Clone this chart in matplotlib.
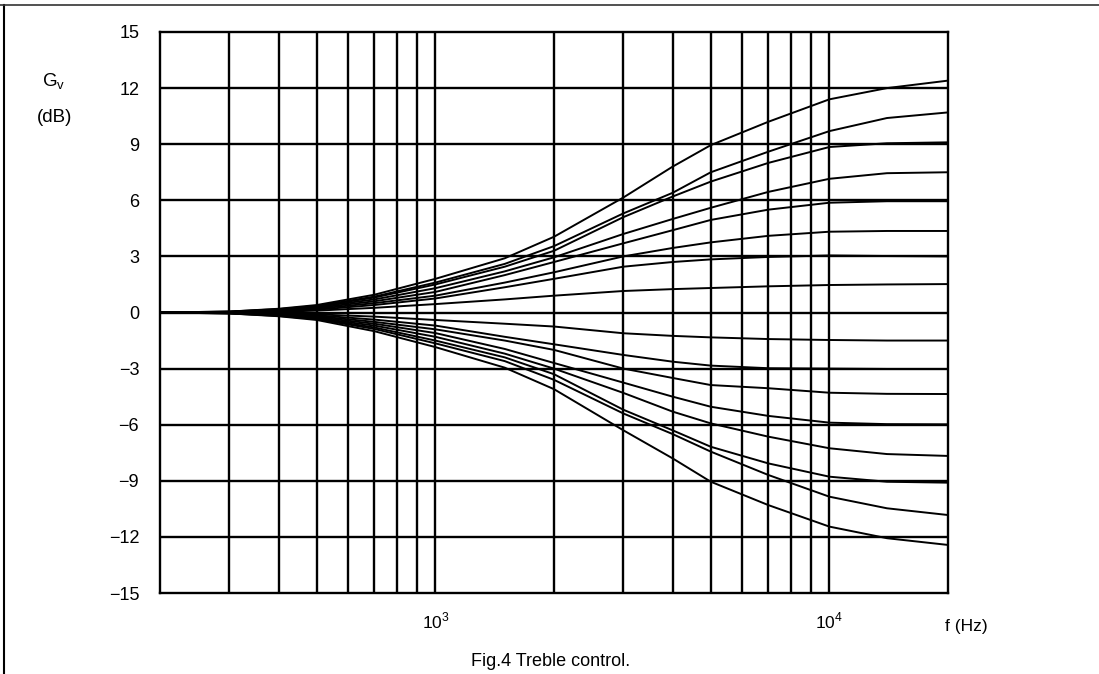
import matplotlib
matplotlib.use("Agg")
import matplotlib.pyplot as plt
from matplotlib.lines import Line2D

plt.rcParams['font.family'] = ['Liberation Sans', 'DejaVu Sans']
plt.rcParams['mathtext.fontset'] = 'custom'
plt.rcParams['mathtext.rm'] = 'Liberation Sans'

# frequencies (Hz) at which the curves were read
freqs = [200, 300, 400, 500, 700, 1000, 1500, 2000, 3000, 4000, 5000, 7000, 10000, 14000, 20000]

# boost settings (dB)
boost_12 = [0, 0.05, 0.2, 0.4, 0.95, 1.8, 2.9, 4.05, 6.15, 7.8, 8.95, 10.2, 11.4, 12.0, 12.4]
boost_10 = [0, 0.05, 0.18, 0.35, 0.85, 1.6, 2.6, 3.55, 5.3, 6.4, 7.5, 8.6, 9.7, 10.4, 10.7]
boost_9 = [0, 0.04, 0.15, 0.33, 0.8, 1.5, 2.45, 3.3, 5.1, 6.2, 7.0, 8.0, 8.85, 9.05, 9.1]
boost_7 = [0, 0.03, 0.13, 0.3, 0.7, 1.3, 2.2, 2.95, 4.2, 5.0, 5.6, 6.45, 7.15, 7.45, 7.5]
boost_6 = [0, 0.03, 0.12, 0.25, 0.6, 1.1, 2.0, 2.7, 3.7, 4.4, 4.95, 5.5, 5.87, 5.95, 5.95]
boost_4 = [0, 0.02, 0.1, 0.2, 0.5, 0.9, 1.6, 2.15, 3.0, 3.45, 3.75, 4.1, 4.32, 4.36, 4.36]
boost_3 = [0, 0.02, 0.07, 0.15, 0.4, 0.75, 1.35, 1.8, 2.45, 2.7, 2.84, 2.97, 3.05, 3.02, 3.0]
boost_1 = [0, 0.01, 0.04, 0.1, 0.25, 0.45, 0.7, 0.9, 1.15, 1.25, 1.31, 1.4, 1.47, 1.5, 1.52]
flat_0 = [0, 0, 0, 0, 0, 0, 0, 0, 0, 0, 0, 0, 0, 0, 0]

# cut settings (dB)
cut_1 = [0, -0.01, -0.04, -0.1, -0.22, -0.4, -0.6, -0.75, -1.11, -1.25, -1.33, -1.42, -1.47, -1.5, -1.5]
cut_3 = [0, -0.02, -0.07, -0.15, -0.38, -0.7, -1.3, -1.7, -2.27, -2.63, -2.84, -2.98, -3.0, -3.02, -3.02]
cut_4 = [0, -0.02, -0.1, -0.2, -0.5, -0.9, -1.5, -2.0, -3.0, -3.5, -3.88, -4.05, -4.29, -4.35, -4.36]
cut_6 = [0, -0.03, -0.12, -0.25, -0.6, -1.1, -1.95, -2.7, -3.75, -4.5, -5.04, -5.53, -5.89, -5.97, -5.98]
cut_7 = [0, -0.03, -0.13, -0.3, -0.7, -1.3, -2.2, -3.0, -4.3, -5.3, -5.93, -6.64, -7.26, -7.57, -7.67]
cut_9 = [0, -0.04, -0.15, -0.33, -0.8, -1.5, -2.4, -3.3, -5.2, -6.3, -7.18, -8.07, -8.78, -9.05, -9.1]
cut_10 = [0, -0.05, -0.18, -0.35, -0.88, -1.65, -2.6, -3.6, -5.4, -6.5, -7.44, -8.69, -9.85, -10.47, -10.83]
cut_12 = [0, -0.05, -0.2, -0.4, -1.0, -1.85, -2.95, -4.1, -6.3, -7.8, -9.05, -10.3, -11.45, -12.07, -12.43]

curves = [boost_12, boost_10, boost_9, boost_7, boost_6, boost_4, boost_3, boost_1, flat_0,
          cut_1, cut_3, cut_4, cut_6, cut_7, cut_9, cut_10, cut_12]

y_ticks = [15, 12, 9, 6, 3, 0, -3, -6, -9, -12, -15]
y_tick_labels = ["15", "12", "9", "6", "3", "0", "\u22123", "\u22126", "\u22129", "\u221212", "\u221215"]
x_grid = [300, 400, 500, 600, 700, 800, 900, 1000, 2000, 3000, 4000, 5000, 6000, 7000, 8000, 9000, 10000]

fig = plt.figure(figsize=(10.99, 6.74), dpi=100)
ax = fig.add_axes([160 / 1099, 1 - 593 / 674, (948 - 160) / 1099, (593 - 32) / 674])

for gains in curves:
    ax.plot(freqs, gains, color="black", linewidth=1.4, solid_capstyle="round", solid_joinstyle="round")

ax.set_xscale("log")
ax.set_xlim(200, 20000)
ax.set_ylim(-15, 15)

for f in x_grid:
    ax.axvline(f, color="black", linewidth=1.7, zorder=1)
for v in y_ticks[1:-1]:
    ax.axhline(v, color="black", linewidth=1.7, zorder=1)

ax.set_yticks(y_ticks)
ax.set_yticklabels(y_tick_labels, fontsize=13)
ax.set_xticks([1000, 10000])
ax.set_xticklabels(["$10^3$", "$10^4$"], fontsize=12.5)
ax.xaxis.set_minor_locator(matplotlib.ticker.NullLocator())
ax.tick_params(axis="y", length=0, pad=15)
ax.tick_params(axis="x", length=0, pad=13)
for s in ax.spines.values():
    s.set_linewidth(1.7)

fig.text(54 / 1099, 1 - 82 / 674, "G$_\\mathregular{v}$", fontsize=13.5, ha="center", va="center")
fig.text(55 / 1099, 1 - 117 / 674, "(dB)", fontsize=13.5, ha="center", va="center")
fig.text(966 / 1099, 1 - 626 / 674, "f (Hz)", fontsize=12.5, ha="center", va="center")
fig.text(551 / 1099, 1 - 661 / 674, "Fig.4 Treble control.", fontsize=13, ha="center", va="center")

# page frame fragments from the scanned sheet
fig.add_artist(Line2D([4 / 1099, 4 / 1099], [0, 1 - 5 / 674], color="black", linewidth=1.5))
fig.add_artist(Line2D([0, 1], [1 - 5 / 674, 1 - 5 / 674], color="#333333", linewidth=1.2))

fig.savefig("out.png", dpi=100)
